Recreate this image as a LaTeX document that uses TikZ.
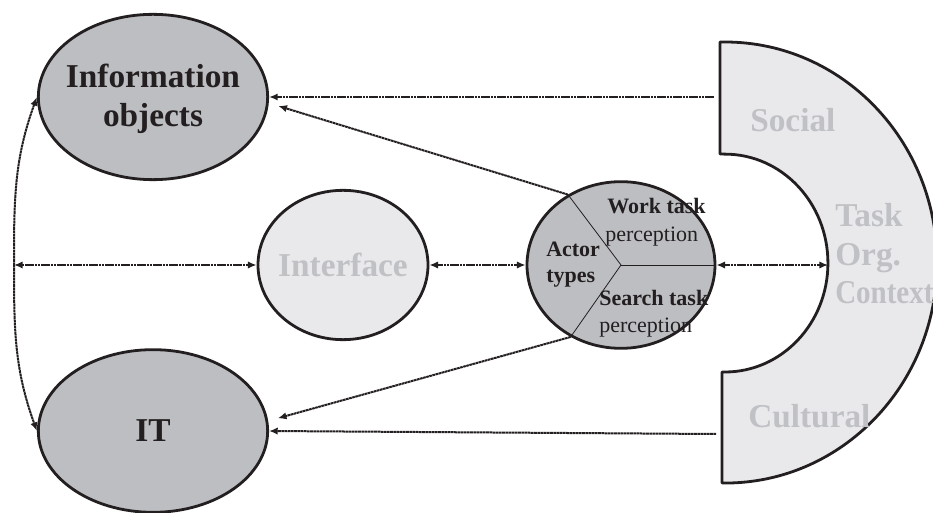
\documentclass[tikz,border=0pt]{standalone}
\usepackage{fontspec}
\setmainfont{Liberation Serif}
\usetikzlibrary{shapes.geometric,arrows.meta}
\definecolor{darkfill}{RGB}{189,190,194}
\definecolor{lightfill}{RGB}{233,233,236}
\definecolor{lighttext}{RGB}{192,193,197}
\definecolor{ink}{RGB}{35,31,32}

\begin{document}
\begin{tikzpicture}[x=0.75pt,y=-0.75pt,
        blob/.style={ellipse, draw=ink, line width=2.1pt, inner sep=0pt},
        big/.style={font=\fontsize{25}{29}\selectfont\bfseries, align=center, inner sep=0pt},
        small/.style={font=\fontsize{16.5}{19.5}\selectfont, text=ink, inner sep=0pt, anchor=base west},
        link/.style={draw=ink, line width=1.5pt, dash pattern=on 2pt off 0.4pt, >={Latex[length=6.5pt,width=5.5pt]}},
        part/.style={draw=ink, line width=0.6pt}]
        \useasboundingbox (0,0) rectangle (933,513);

        % context shape
        \draw[fill=lightfill, draw=ink, line width=2.1pt, line join=round]
            (720,42) -- (725,42) arc[start angle=90, end angle=-90, x radius=159pt, y radius=165.4pt]
            -- (722,483) -- (722,372) -- (725,372)
            arc[start angle=-90, end angle=90, x radius=77.2pt, y radius=81.7pt]
            -- (720,154) -- cycle;
        \node[big, text=lighttext, anchor=base west] (social) at (750,132) {Social};
        \node[big, text=lighttext, anchor=base west] (cultural) at (748,428) {Cultural};
        \foreach \w/\y in {Task/227, Org./266}
            \node[big, text=lighttext, anchor=base west] (ctx\y) at (835,\y) {\w};
        \node[big, text=lighttext, anchor=base west] (ctx304) at (835,304) {\addfontfeatures{FakeStretch=0.87}Context};

        % ellipses
        \node[blob, fill=darkfill, minimum width=172pt, minimum height=124pt] (info) at (153,97) {};
        \node[blob, fill=darkfill, minimum width=172pt, minimum height=122pt] (it) at (153,431) {};
        \node[blob, fill=lightfill, minimum width=127.5pt, minimum height=112pt] (iface) at (343,265) {};
        \node[blob, fill=darkfill, minimum width=141pt, minimum height=125pt] (actor) at (621,265) {};

        \node[big, text=ink] (infotxt) at (153,99) {Information\\objects};
        \node[big, text=ink] (ittxt) at (it) {IT};
        \node[big, text=lighttext] (ifacetxt) at (iface) {Interface};

        \draw[part] (actor.center) -- (actor.127);
        \draw[part] (actor.center) -- (actor.235);
        \draw[part] (actor.center) -- (actor.east);

        \node[small, font=\fontsize{16.5}{19.5}\selectfont\bfseries] (actorlbl) at (546,257) {Actor};
        \node[small, font=\fontsize{16.5}{19.5}\selectfont\bfseries] (typeslbl) at (546,283) {types};
        \node[small, font=\fontsize{16.5}{19.5}\selectfont\bfseries] (worklbl) at (607,214) {Work task};
        \node[small] (workperc) at (605,242) {perception};
        \node[small, font=\fontsize{16.5}{19.5}\selectfont\bfseries] (searchlbl) at (599,306) {Search task};
        \node[small] (searchperc) at (599,333) {perception};

        \coordinate (hub) at (14,265);
        \coordinate (socialend) at (714,97);
        \coordinate (culturalend) at (716,434);
        \coordinate (innerarc) at (828,265);

        \draw[link,->] (hub) to[out=90, in=250] (info.west);
        \draw[link,->] (hub) to[out=-90, in=110] (it.west);
        \draw[link,<->] (hub) -- (iface.west);
        \draw[link,<->] (iface.east) -- (actor.west);
        \draw[link,<->] (actor.east) -- (innerarc);
        \draw[link,->] (socialend) -- (info.east);
        \draw[link,->] (culturalend) -- (it.east);
        \draw[link,->, shorten >=7.5pt] (actor.127) -- (info.-3);
        \draw[link,->, shorten >=7.5pt] (actor.235) -- (it.5);
    \end{tikzpicture}
\end{document}
